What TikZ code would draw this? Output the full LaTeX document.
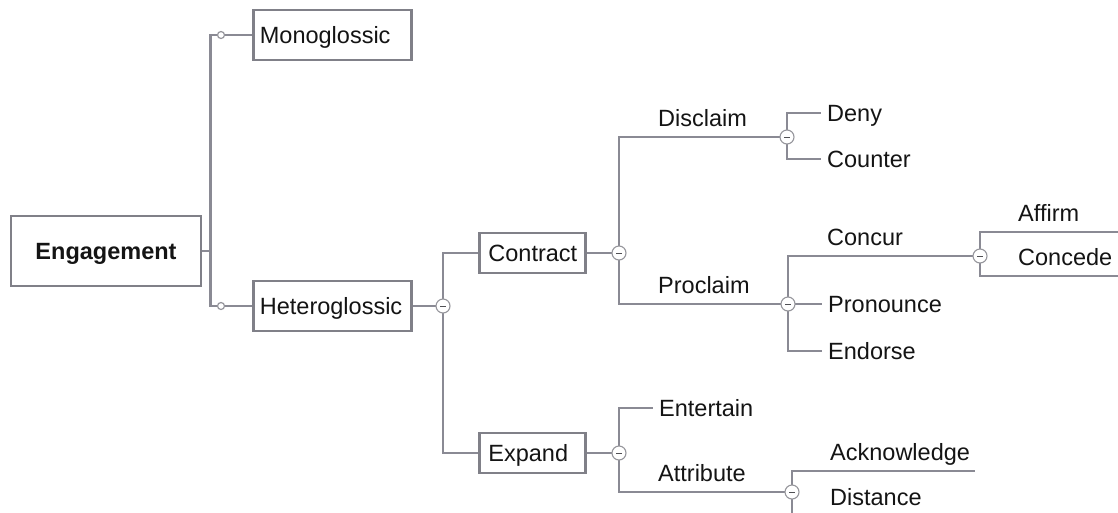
\documentclass[tikz,border=0pt]{standalone}
\usepackage{fontspec}
\setmainfont{Liberation Sans}
\usetikzlibrary{backgrounds}

\definecolor{linkgray}{RGB}{138,138,148}
\definecolor{boxgray}{RGB}{128,128,136}
\definecolor{knobgray}{RGB}{150,150,156}
\definecolor{minusgray}{RGB}{80,80,84}
\definecolor{inkblack}{RGB}{20,20,20}

\tikzset{
  mapfont/.style={font=\fontsize{23.5}{28}\selectfont, text=inkblack},
  topic/.style={mapfont, draw=boxgray, line width=2.8pt, fill=white,
    inner sep=0pt, text height=16.8pt, text depth=0pt},
  leaf/.style={mapfont, anchor=west, inner xsep=6pt, inner ysep=0pt,
    text height=16.8pt, text depth=0pt},
  ulabel/.style={mapfont, anchor=south west, inner xsep=5pt, inner ysep=0pt,
    text height=16.8pt, text depth=10.5pt},
  conn/.style={draw=linkgray, line width=2.6pt},
  knob/.style={circle, draw=knobgray, line width=1.1pt, fill=white,
    minimum size=14pt, inner sep=0pt,
    path picture={\draw[minusgray, line width=1pt]
      ([xshift=-3pt]path picture bounding box.center) --
      ([xshift=3pt]path picture bounding box.center);}},
  ring/.style={circle, draw=knobgray, line width=1.2pt, fill=white,
    minimum size=7pt, inner sep=0pt},
}

\begin{document}
\begin{tikzpicture}[x=1pt, y=-1pt]
\useasboundingbox (0,0) rectangle (1118,512);

% boxed topics
\node[topic, font=\fontsize{23.5}{28}\selectfont\bfseries, minimum width=190pt, minimum height=70pt]
  (eng) at (106,251) {Engagement};
\node[topic, anchor=west, minimum width=158pt, minimum height=50pt]
  (mono) at (252,35) {\makebox[145pt][l]{Monoglossic}};
\node[topic, anchor=west, minimum width=158pt, minimum height=50pt]
  (het) at (252,306) {\makebox[145pt][l]{Heteroglossic}};
\node[topic, anchor=west, minimum width=106pt, minimum height=40pt]
  (con) at (478,253) {\makebox[88pt][l]{Contract}};
\node[topic, anchor=west, minimum width=106pt, minimum height=40pt]
  (exp) at (478,453) {\makebox[88pt][l]{Expand}};

% junction markers
\node[ring] (rm) at (221,35) {};
\node[ring] (rh) at (221,306) {};
\node[knob] (hk) at (443,306) {};
\node[knob] (ck) at (619,253) {};
\node[knob] (ek) at (619,453) {};
\node[knob] (dk) at (787,137) {};
\node[knob] (pk) at (788,304) {};
\node[knob] (ak) at (980,256) {};
\node[knob] (tk) at (792,492) {};

% labels sitting on their branch lines
\node[ulabel] (disc) at (653,137) {Disclaim};
\node[ulabel] (proc) at (653,304) {Proclaim};
\node[ulabel] (concur) at (822,256) {Concur};
\node[ulabel] (attr) at (653,492) {Attribute};
\node[ulabel, text width=101pt, align=left] (affirm) at (1013,232) {Affirm};
\node[ulabel, text width=101pt, align=left] (concede) at (1013,276) {Concede};
\node[ulabel] (ackn) at (825,471) {Acknowledge};
\node[ulabel] (dist) at (825,516) {Distance};

% plain leaves
\node[leaf] (deny) at (821,113) {Deny};
\node[leaf] (counter) at (821,159) {Counter};
\node[leaf] (pron) at (822,304) {Pronounce};
\node[leaf] (endo) at (822,351) {Endorse};
\node[leaf] (ent) at (653,408) {Entertain};

\begin{scope}[on background layer]
  \draw[conn] (eng.east) -- ++(8,0) coordinate (fork);
  \draw[conn] (fork) |- (mono.west);
  \draw[conn] (fork) |- (het.west);
  \draw[conn] (het.east) -- (hk.center);
  \draw[conn] (hk.center) |- (con.west);
  \draw[conn] (hk.center) |- (exp.west);
  \draw[conn] (con.east) -- (ck.center);
  \draw[conn] (ck.center) |- (dk.center);
  \draw[conn] (ck.center) |- (pk.center);
  \draw[conn] (dk.center) |- (deny.west);
  \draw[conn] (dk.center) |- (counter.west);
  \draw[conn] (pk.center) |- (ak.center);
  \draw[conn] (pk.center) -- (pron.west);
  \draw[conn] (pk.center) |- (endo.west);
  \draw[conn] (ak.center) |- (affirm.south east);
  \draw[conn] (ak.center) |- (concede.south east);
  \draw[conn] (exp.east) -- (ek.center);
  \draw[conn] (ek.center) |- (ent.west);
  \draw[conn] (ek.center) |- (tk.center);
  \draw[conn] (tk.center) |- (ackn.south east);
  \draw[conn] (tk.center) |- (dist.south east);
\end{scope}
\end{tikzpicture}
\end{document}
